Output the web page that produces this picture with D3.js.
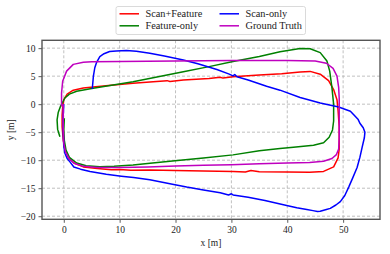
<!DOCTYPE html>
<html>
<head>
<meta charset="utf-8">
<script src="https://cdn.jsdelivr.net/npm/d3@7"></script>
<style>
  html, body { margin: 0; padding: 0; background: #fff; }
  svg text { font-family: "Liberation Serif", "DejaVu Serif", serif; fill: #222; }
</style>
</head>
<body>
<svg width="390" height="254"></svg>
<script>
// trajectories, [x, y] in metres
const scanFeature = [
  [-0.2, -0.5], [0.0, 0.8], [0.6, 1.8], [1.7, 2.5], [3.5, 2.9], [5.25, 3.05], [8, 3.35],
  [12.4, 3.75], [16, 4.0], [18.5, 4.2], [19, 4.05], [21.4, 4.3], [26, 4.6], [28, 4.8], [28.5, 4.65],
  [30.3, 4.9], [35, 5.2], [39, 5.45], [42.3, 5.75], [44.1, 5.85], [45.9, 5.35], [47.4, 4.2],
  [48.3, 2.6], [48.9, 0.8], [49.1, -1.2], [49.3, -4], [49.3, -8], [49.1, -9.6], [48.3, -11.2],
  [46.5, -12.0], [44, -12.15], [40, -12.1], [35, -12.05], [33.5, -11.85], [32.5, -12.1],
  [30.3, -12.0], [25, -11.95], [20, -11.85], [15.4, -11.75], [12, -11.8], [10, -11.65],
  [8.5, -11.7], [6, -11.5], [3.5, -11.2], [1.8, -10.5], [0.8, -9.5], [0.2, -8], [-0.1, -6.4],
  [-0.3, -4], [-0.3, -2], [-0.2, -0.5]
];
const featureOnly = [
  [-0.7, -5.8], [-1.1, -4.5], [-1.2, -2.8], [-1.0, -1.5], [-0.6, -0.4], [0.2, 1.1], [1.0, 1.8],
  [2.3, 2.3], [5.25, 2.85], [8, 3.3], [12.4, 4.0], [16, 4.7], [21.4, 5.8], [26, 6.7],
  [30.3, 7.6], [35, 8.5], [38.7, 9.35], [42.3, 9.95], [44.1, 9.9], [45.9, 9.2], [47.1, 7.7],
  [47.6, 5.9], [48.0, 2.9], [48.3, -0.05], [48.3, -3.0], [48.1, -4.6], [47.5, -5.9],
  [46.5, -6.9], [44.7, -7.35], [41.1, -7.7], [38.7, -7.9], [35, -8.3], [30.3, -9.05],
  [25, -9.6], [19.9, -10.1], [15, -10.6], [12.4, -10.85], [9, -11.1], [6.45, -11.15],
  [4, -11.0], [2.3, -10.5], [1.0, -9.5], [0.4, -8.2], [0.1, -6.5], [0.0, -4.5], [0.1, -2.5]
];
const scanOnly = [
  [0.0, 0.0], [-0.1, -2], [-0.1, -5.2], [0.0, -7.5], [0.2, -8.75], [0.6, -9.7], [1.1, -10.3],
  [1.8, -11.2], [3.0, -11.6], [4.7, -12.0], [7.6, -12.5], [10.3, -12.85], [12.5, -13.1],
  [15.4, -13.5], [19.9, -14.4], [22, -14.8], [25, -15.3], [28, -15.8], [29.5, -16.2],
  [30.0, -16.0], [30.3, -16.2], [33, -16.6], [36, -17.2], [39.9, -18.1], [41.7, -18.5],
  [43.5, -18.8], [44.6, -19.0], [45.4, -19.15], [45.9, -19.1], [47.0, -18.8], [47.7, -18.6],
  [48.7, -18.0], [49.5, -17.4], [50.3, -16.3], [51.0, -14.8], [51.7, -13.2], [52.5, -11.3],
  [53.0, -9.5], [53.4, -7.7], [53.8, -6.0], [53.9, -5.0], [53.6, -4.2], [53.0, -3.4], [52.7, -2.75],
  [52.2, -2.2], [51.3, -1.25], [49.2, -0.5], [45.9, 0.2], [42.3, 1.2], [38.7, 2.5], [36.3, 3.2], [33, 4.3],
  [31, 4.9], [30.6, 5.3], [30.3, 5.05], [29.5, 5.4], [27.4, 6.2], [24, 7.2], [21.4, 7.9],
  [18, 8.6], [15.4, 9.1], [13, 9.45], [11.2, 9.6], [9.4, 9.5], [8.2, 9.4], [7.2, 9.0],
  [6.45, 8.5], [5.85, 7.4], [5.55, 6.5], [5.3, 5.0], [5.1, 2.7]
];
const groundTruth = [
  [-0.1, 0.0], [-0.1, -4], [0.0, -7], [0.3, -8.5], [1.0, -9.8], [2.0, -10.6], [3.5, -11.1],
  [6, -11.3], [10, -11.3], [15, -11.2], [20, -11.05], [25, -10.9], [30, -10.8], [35, -10.65],
  [40, -10.5], [44, -10.4], [46.5, -10.2], [48.0, -9.7], [48.8, -9.0], [49.2, -8.0],
  [49.3, -6], [49.3, -2], [49.3, 1], [49.2, 3.0], [48.9, 5.0], [48.2, 6.4], [47.0, 7.3],
  [45, 7.7], [40, 7.8], [35, 7.8], [30, 7.78], [25, 7.75], [20, 7.7], [15, 7.65], [10, 7.6],
  [5, 7.55], [3.5, 7.5], [1.7, 7.1], [0.5, 5.9], [-0.2, 4.1], [-0.4, 2.0], [-0.4, -0.4]
];

const seriesNames = ["Scan+Feature", "Feature-only", "Scan-only", "Ground Truth"];
const seriesColors = ["#ff0000", "#008000", "#0000ff", "#bf00bf"];
const seriesData = [scanFeature, featureOnly, scanOnly, groundTruth];

const xTicks = [0, 10, 20, 30, 40, 50];
const yTicks = [-20, -15, -10, -5, 0, 5, 10];

const plotL = 42, plotR = 380, plotT = 40.3, plotB = 219.3;

const svg = d3.select("svg");
const x = d3.scaleLinear().domain([-3.9, 56.6]).range([plotL, plotR]);
const y = d3.scaleLinear().domain([-20.55, 11.4]).range([plotB, plotT]);

const fmt = d => d < 0 ? "\u2212" + Math.abs(d) : String(d);

// grid
const grid = svg.append("g");
grid.selectAll(".gx").data(xTicks).enter().append("line")
  .attr("x1", d => x(d)).attr("x2", d => x(d))
  .attr("y1", plotT).attr("y2", plotB)
  .attr("stroke", "#b0b0b0").attr("stroke-width", 0.8).attr("stroke-dasharray", "3,2");
grid.selectAll(".gy").data(yTicks).enter().append("line")
  .attr("x1", plotL).attr("x2", plotR)
  .attr("y1", d => y(d)).attr("y2", d => y(d))
  .attr("stroke", "#b0b0b0").attr("stroke-width", 0.8).attr("stroke-dasharray", "3,2");

// trajectories
const line = d3.line().x(d => x(d[0])).y(d => y(d[1]));
svg.append("g").selectAll("path").data(seriesData).enter().append("path")
  .attr("d", line)
  .attr("fill", "none")
  .attr("stroke", (d, i) => seriesColors[i])
  .attr("stroke-width", 1.5)
  .attr("stroke-linejoin", "round");

// axes
const xAxis = svg.append("g").attr("transform", `translate(0,${plotB})`)
  .call(d3.axisBottom(x).tickValues(xTicks).tickFormat(fmt).tickSize(3.5).tickPadding(3));
const yAxis = svg.append("g").attr("transform", `translate(${plotL},0)`)
  .call(d3.axisLeft(y).tickValues(yTicks).tickFormat(fmt).tickSize(3.5).tickPadding(3));
[xAxis, yAxis].forEach(a => {
  a.select(".domain").remove();
  a.selectAll("line").attr("stroke", "#333").attr("stroke-width", 0.8);
  a.selectAll("text").attr("font-family", "Liberation Serif, DejaVu Serif, serif")
    .attr("font-size", 9.5).attr("fill", "#222");
});

// frame
svg.append("rect")
  .attr("x", plotL).attr("y", plotT)
  .attr("width", plotR - plotL).attr("height", plotB - plotT)
  .attr("fill", "none").attr("stroke", "#555").attr("stroke-width", 1.4);

// axis labels
svg.append("text").attr("x", (plotL + plotR) / 2).attr("y", 246)
  .attr("text-anchor", "middle").attr("font-size", 9.5).text("x [m]");
svg.append("text")
  .attr("transform", `translate(14,${(plotT + plotB) / 2}) rotate(-90)`)
  .attr("text-anchor", "middle").attr("font-size", 9.5).text("y [m]");

// legend (two columns, filled column-wise)
const lg = svg.append("g");
lg.append("rect").attr("x", 116).attr("y", 6.5).attr("width", 189.5).attr("height", 28)
  .attr("rx", 2).attr("fill", "#fff").attr("fill-opacity", 0.8)
  .attr("stroke", "#d0d0d0").attr("stroke-width", 0.8);
const colX = [119.5, 219.5], rowY = [13.8, 25.8];
seriesNames.forEach((name, i) => {
  const cx = colX[Math.floor(i / 2)], cy = rowY[i % 2];
  lg.append("line").attr("x1", cx).attr("x2", cx + 19.5).attr("y1", cy).attr("y2", cy)
    .attr("stroke", seriesColors[i]).attr("stroke-width", 1.5);
  lg.append("text").attr("x", cx + 26).attr("y", cy + 3.4)
    .attr("font-size", 10.3).text(name);
});
</script>
</body>
</html>
